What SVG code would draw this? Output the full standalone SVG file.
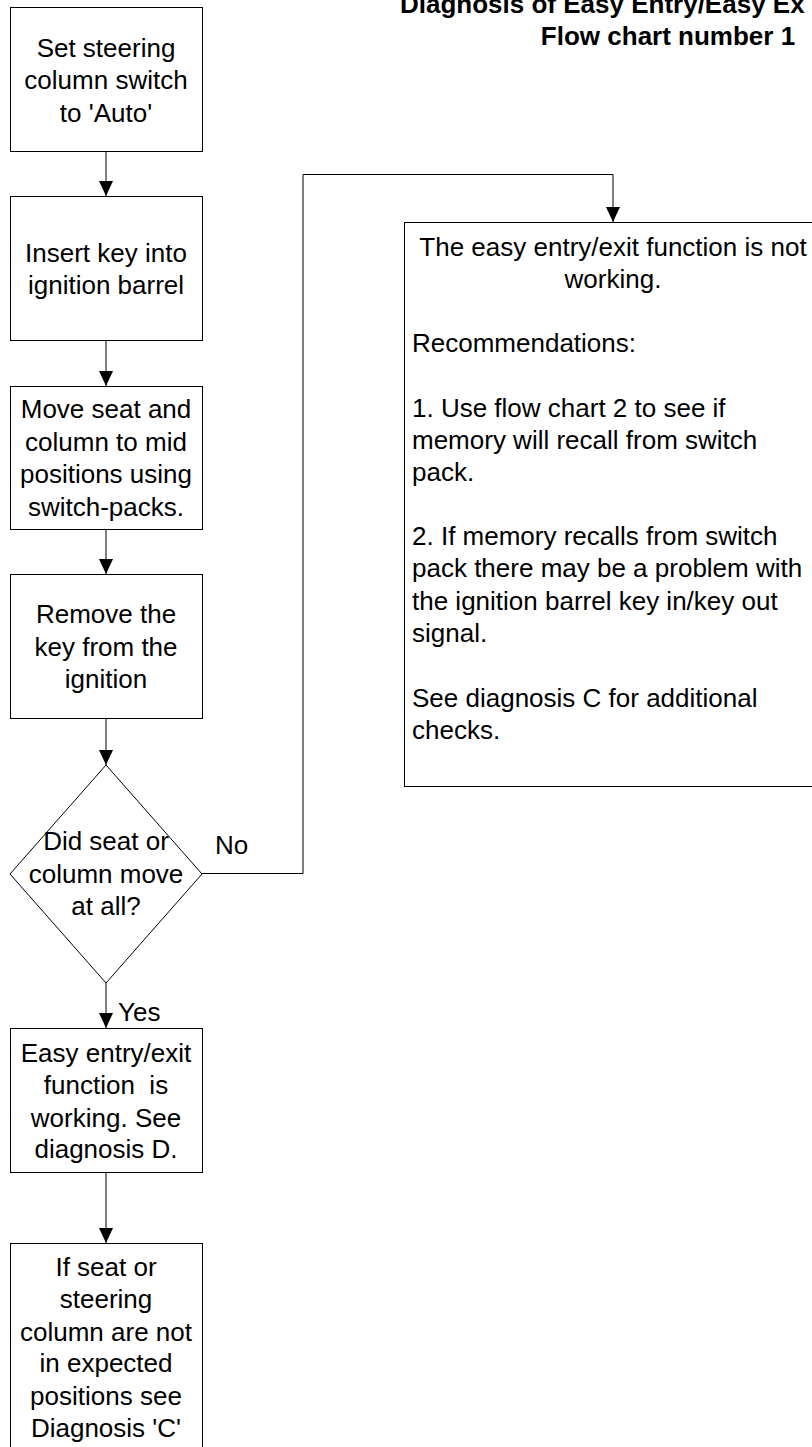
<svg xmlns="http://www.w3.org/2000/svg" width="812" height="1447" viewBox="0 0 812 1447">
<style>
.box{fill:#fff;stroke:#000;stroke-width:1}
.conn{fill:none;stroke:#000;stroke-width:1}
text{font-family:"Liberation Sans",Arial,sans-serif;font-size:26px;fill:#000}
.c{text-anchor:middle}
.title{font-weight:bold}
</style>
<defs>
<marker id="arr" markerUnits="userSpaceOnUse" markerWidth="15" markerHeight="14" refX="15" refY="7" orient="auto">
<path d="M0,0 L15,7 L0,14 Z" fill="#000"/>
</marker>
</defs>
<rect width="812" height="1447" fill="#fff"/>
<g id="title">
<text class="title" x="400" y="13">Diagnosis of Easy Entry/Easy Ex</text>
<text class="title c" x="668" y="45">Flow chart number 1</text>
</g>
<g id="connectors">
<line class="conn" x1="106" y1="151" x2="106" y2="196" marker-end="url(#arr)"/>
<line class="conn" x1="106" y1="340" x2="106" y2="386" marker-end="url(#arr)"/>
<line class="conn" x1="106" y1="529" x2="106" y2="574" marker-end="url(#arr)"/>
<line class="conn" x1="106" y1="718" x2="106" y2="765" marker-end="url(#arr)"/>
<line class="conn" x1="106" y1="983" x2="106" y2="1028" marker-end="url(#arr)"/>
<line class="conn" x1="106" y1="1172" x2="106" y2="1243" marker-end="url(#arr)"/>
<polyline class="conn" points="202,873.5 303,873.5 303,174.5 613,174.5 613,222" marker-end="url(#arr)"/>
<text x="215" y="854">No</text>
<text x="118" y="1021">Yes</text>
</g>
<g id="n1">
<rect class="box" x="10.5" y="7.5" width="192" height="144"/>
<text class="c" x="106" y="57">Set steering</text>
<text class="c" x="106" y="89">column switch</text>
<text class="c" x="106" y="122">to 'Auto'</text>
</g>
<g id="n2">
<rect class="box" x="10.5" y="196.5" width="192" height="144"/>
<text class="c" x="106" y="262">Insert key into</text>
<text class="c" x="106" y="294">ignition barrel</text>
</g>
<g id="n3">
<rect class="box" x="10.5" y="386.5" width="192" height="143"/>
<text class="c" x="106" y="418">Move seat and</text>
<text class="c" x="106" y="451">column to mid</text>
<text class="c" x="106" y="483">positions using</text>
<text class="c" x="106" y="516">switch-packs.</text>
</g>
<g id="n4">
<rect class="box" x="10.5" y="574.5" width="192" height="144"/>
<text class="c" x="106" y="623">Remove the</text>
<text class="c" x="106" y="656">key from the</text>
<text class="c" x="106" y="688">ignition</text>
</g>
<g id="n5">
<polygon class="box" points="106,765 202,874 106,983 10,874"/>
<text class="c" x="106" y="850">Did seat or</text>
<text class="c" x="106" y="883">column move</text>
<text class="c" x="106" y="915">at all?</text>
</g>
<g id="n6">
<rect class="box" x="10.5" y="1028.5" width="192" height="144"/>
<text class="c" x="106" y="1062">Easy entry/exit</text>
<text class="c" x="106" y="1094" xml:space="preserve" style="white-space:pre">function  is</text>
<text class="c" x="106" y="1127">working. See</text>
<text class="c" x="106" y="1158">diagnosis D.</text>
</g>
<g id="n7">
<rect class="box" x="10.5" y="1243.5" width="192" height="220"/>
<text class="c" x="106" y="1276">If seat or</text>
<text class="c" x="106" y="1308">steering</text>
<text class="c" x="106" y="1341">column are not</text>
<text class="c" x="106" y="1372">in expected</text>
<text class="c" x="106" y="1405">positions see</text>
<text class="c" x="106" y="1437">Diagnosis 'C'</text>
</g>
<g id="n8">
<rect class="box" x="404.5" y="222.5" width="418" height="564"/>
<text class="c" x="613" y="256">The easy entry/exit function is not</text>
<text class="c" x="613" y="288">working.</text>
<text x="412" y="352">Recommendations:</text>
<text x="412" y="417">1. Use flow chart 2 to see if</text>
<text x="412" y="449">memory will recall from switch</text>
<text x="412" y="481">pack.</text>
<text x="412" y="545">2. If memory recalls from switch</text>
<text x="412" y="577">pack there may be a problem with</text>
<text x="412" y="610">the ignition barrel key in/key out</text>
<text x="412" y="642">signal.</text>
<text x="412" y="707">See diagnosis C for additional</text>
<text x="412" y="739">checks.</text>
</g>
</svg>
